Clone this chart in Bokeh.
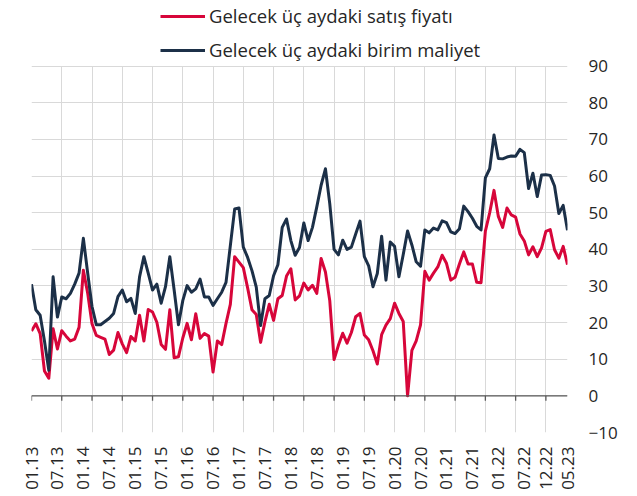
from bokeh.plotting import figure
from bokeh.models import (FixedTicker, Span, Legend, LegendItem, Range1d, ColumnDataSource)
from bokeh.embed import file_html
from bokeh.resources import INLINE

# month index 0 = 01.13 ... 124 = 05.23
label_ticks = [0, 6, 12, 18, 24, 30, 36, 42, 48, 54, 60, 66, 72, 78, 84, 90, 96, 102, 108, 114, 119, 124]
label_text = ["01.13", "07.13", "01.14", "07.14", "01.15", "07.15", "01.16", "07.16", "01.17", "07.17",
              "01.18", "07.18", "01.19", "07.19", "01.20", "07.20", "01.21", "07.21", "01.22", "07.22",
              "12.22", "05.23"]
grid_months = [0, 7, 14, 21, 28, 35, 42, 49, 56, 63, 70, 77, 84, 91, 98, 105, 112, 119]
y_ticks = [-10, 0, 10, 20, 30, 40, 50, 60, 70, 80, 90]

satis_fiyati = [
    17.7, 19.7, 17.0, 6.8, 4.8, 18.3, 12.8, 17.8, 16.3, 15.0,
    15.5, 18.7, 34.3, 28.0, 19.7, 16.5, 16.0, 15.5, 11.3, 12.5,
    17.3, 14.2, 11.8, 16.2, 15.0, 22.0, 15.0, 23.6, 22.9, 20.1,
    14.0, 12.7, 23.5, 10.4, 10.7, 15.8, 19.8, 15.3, 22.4, 15.7,
    17.0, 16.3, 6.5, 15.0, 14.0, 19.8, 25.0, 38.0, 36.5, 35.0,
    29.5, 23.5, 22.2, 14.6, 20.2, 25.0, 20.6, 26.5, 27.4, 32.7,
    34.7, 26.2, 27.3, 30.8, 28.9, 30.2, 28.0, 37.5, 33.8, 26.0,
    9.9, 13.8, 17.1, 14.4, 17.3, 21.6, 22.5, 16.6, 15.3, 12.3,
    8.7, 16.7, 19.3, 21.1, 25.3, 22.5, 20.3, 0.0, 12.4, 15.0,
    19.4, 34.0, 31.6, 33.5, 35.2, 38.4, 36.2, 31.6, 32.4, 36.0,
    39.3, 36.0, 36.0, 31.0, 30.9, 45.0, 50.0, 56.1, 49.0, 46.0,
    51.3, 49.4, 48.8, 44.2, 42.3, 38.5, 40.7, 38.0, 40.4, 44.9,
    45.4, 39.9, 37.6, 40.8, 35.8,
]

birim_maliyet = [
    30.5, 23.5, 22.0, 15.0, 7.0, 32.5, 21.5, 27.0, 26.5, 28.0,
    30.5, 33.5, 43.0, 33.5, 24.4, 19.4, 19.4, 20.3, 21.2, 22.5,
    27.1, 28.9, 25.7, 26.6, 22.5, 32.5, 38.0, 33.5, 28.9, 30.5,
    25.3, 29.8, 38.0, 28.9, 19.4, 26.0, 30.1, 28.3, 29.2, 31.9,
    27.0, 27.0, 24.7, 26.5, 28.3, 31.0, 41.0, 51.0, 51.3, 40.6,
    37.8, 34.2, 29.7, 19.2, 26.5, 27.4, 32.8, 35.8, 46.0, 48.3,
    42.4, 38.4, 40.5, 47.2, 42.4, 46.0, 51.6, 57.5, 62.0, 52.5,
    40.0, 38.5, 42.5, 40.0, 40.6, 44.2, 47.7, 38.0, 35.5, 29.8,
    33.4, 43.6, 31.6, 42.0, 40.8, 32.5, 38.6, 45.0, 41.2, 36.6,
    35.4, 45.3, 44.5, 45.8, 45.3, 47.8, 47.3, 44.8, 44.3, 45.6,
    51.8, 50.3, 48.5, 46.3, 45.3, 59.5, 62.0, 71.2, 64.8, 64.7,
    65.2, 65.5, 65.4, 67.3, 66.4, 56.6, 60.8, 54.4, 60.3, 60.4,
    60.2, 57.3, 49.8, 52.0, 45.2,
]

months = list(range(len(satis_fiyati)))
src = ColumnDataSource(dict(m=months, satis=satis_fiyati, maliyet=birim_maliyet))

FONT = "Open Sans"
TXT = "#262626"
AXIS = "#595959"
GRID = "#d9d9d9"

FRAME_H = 432
PX_PER_UNIT = 3.663
y_top = y_ticks[0] + FRAME_H / PX_PER_UNIT   # frame extends above 90 to host the legend

p = figure(width=630, height=494, output_backend="svg", toolbar_location=None,
           x_range=Range1d(0, months[-1]), y_range=Range1d(y_ticks[0], y_top),
           y_axis_location="right",
           min_border_left=31, min_border_right=63, min_border_top=0, min_border_bottom=62)
p.outline_line_color = None
p.background_fill_color = "white"

# horizontal grid
p.ygrid.ticker = FixedTicker(ticks=y_ticks)
p.ygrid.grid_line_color = GRID
p.ygrid.grid_line_width = 1
# vertical grid, limited to the -10..90 band
p.xgrid.ticker = FixedTicker(ticks=grid_months)
p.xgrid.grid_line_color = GRID
p.xgrid.grid_line_width = 1
p.xgrid.cross_bounds = (y_ticks[0], y_ticks[-1])

# y axis (right)
ya = p.yaxis[0]
ya.ticker = FixedTicker(ticks=y_ticks)
ya.axis_line_color = None
ya.major_tick_line_color = None
ya.minor_tick_line_color = None
ya.major_tick_out = 0
ya.major_tick_in = 0
ya.major_label_standoff = 21
ya.major_label_text_font = FONT
ya.major_label_text_font_size = "17px"
ya.major_label_text_color = TXT

# x axis labels (below)
xa = p.xaxis[0]
xa.ticker = FixedTicker(ticks=label_ticks)
xa.major_label_overrides = {t: s for t, s in zip(label_ticks, label_text)}
xa.major_label_orientation = 1.5707963
xa.axis_line_color = None
xa.major_tick_line_color = None
xa.minor_tick_line_color = None
xa.major_tick_out = 0
xa.major_tick_in = 0
xa.major_label_standoff = 14
xa.major_label_text_font = FONT
xa.major_label_text_font_size = "17px"
xa.major_label_text_color = TXT

# zero line with downward tick marks at the grid positions
p.add_layout(Span(location=0, dimension="width", line_color=AXIS, line_width=1.3))
tick_len = 5 / PX_PER_UNIT
p.segment(x0=grid_months, y0=[0] * len(grid_months), x1=grid_months,
          y1=[-tick_len] * len(grid_months), line_color=AXIS, line_width=1.3)

r1 = p.line("m", "satis", source=src, line_color="#D7063A", line_width=3, line_join="round")
r2 = p.line("m", "maliyet", source=src, line_color="#1C3048", line_width=3, line_join="round")

LEG_H = 57
legend = Legend(items=[LegendItem(label="Gelecek üç aydaki satış fiyatı", renderers=[r1]),
                       LegendItem(label="Gelecek üç aydaki birim maliyet", renderers=[r2])],
                location=(129, FRAME_H - 5 - LEG_H), orientation="vertical",
                glyph_width=45, glyph_height=24, label_height=24, label_standoff=4, spacing=9,
                padding=0, margin=0, border_line_color=None, background_fill_alpha=0,
                label_text_font=FONT, label_text_font_size="18.5px", label_text_color=TXT)
p.add_layout(legend)

open("out.html", "w").write(file_html(p, INLINE))
